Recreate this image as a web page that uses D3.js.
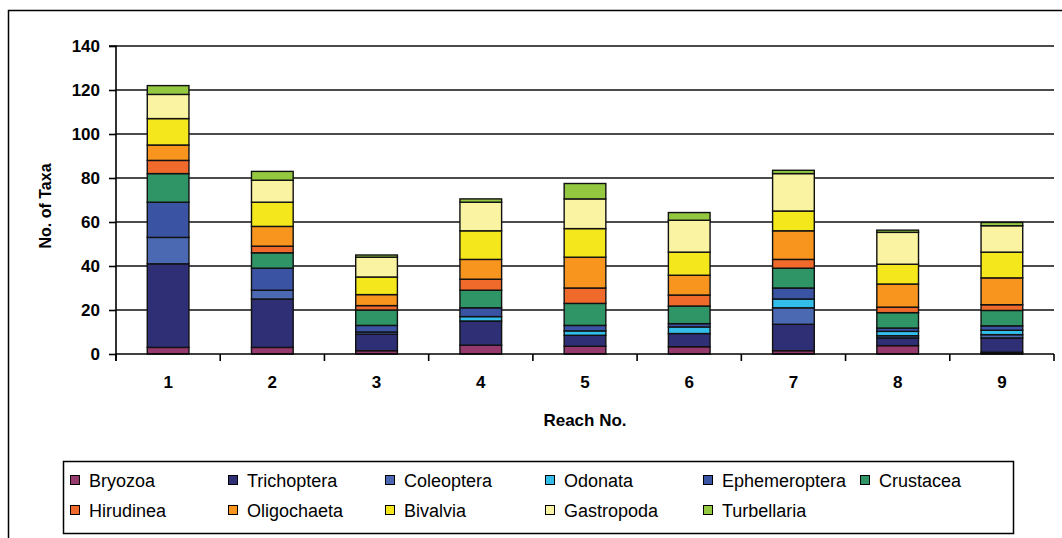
<!DOCTYPE html>
<html>
<head>
<meta charset="utf-8">
<script src="https://cdn.jsdelivr.net/npm/d3@7"></script>
<style>
  html, body { margin: 0; padding: 0; background: #fff; }
  svg { display: block; font-family: Arial, "Liberation Sans", sans-serif; }
</style>
</head>
<body>
<svg id="chart" width="1062" height="538"></svg>
<script>
// ---- data ----
const reaches = ["1", "2", "3", "4", "5", "6", "7", "8", "9"];
const taxa = ["Bryozoa", "Trichoptera", "Coleoptera", "Odonata", "Ephemeroptera", "Crustacea",
              "Hirudinea", "Oligochaeta", "Bivalvia", "Gastropoda", "Turbellaria"];
const bryozoa       = [3, 3, 1.5, 4, 3.5, 3.3, 1.5, 3.8, 0.8];
const trichoptera   = [38, 22, 7.5, 11, 5, 6, 12, 3.5, 6.5];
const coleoptera    = [12, 4, 1, 0, 0, 0, 7.5, 1, 1.5];
const odonata       = [0, 0, 0, 2, 2, 3, 4, 2, 2];
const ephemeroptera = [16, 10, 3, 4, 2.5, 1.5, 5, 1.5, 2];
const crustacea     = [13, 7, 7, 8, 10, 8, 9, 7, 7];
const hirudinea     = [6, 3, 2, 5, 7, 5, 4, 2.5, 2.6];
const oligochaeta   = [7, 9, 5, 9, 14, 9, 13, 10.5, 12.2];
const bivalvia      = [12, 11, 8, 13, 13, 10.5, 9, 9, 11.7];
const gastropoda    = [11, 10, 9, 13, 13.5, 14.5, 17, 14.5, 12];
const turbellaria   = [4, 4, 1, 1.5, 7, 3.5, 1.5, 1, 1.5];
const yTicks = [0, 20, 40, 60, 80, 100, 120, 140];

const seriesValues = [bryozoa, trichoptera, coleoptera, odonata, ephemeroptera, crustacea,
                      hirudinea, oligochaeta, bivalvia, gastropoda, turbellaria];
const colors = ["#963a6e", "#2e2f74", "#4a69b2", "#33bde9", "#3a53a3", "#2f9566",
                "#ef6a2b", "#f7951f", "#f4e81c", "#faf3a1", "#93c840"];

(function () {
// table for d3.stack
const table = reaches.map((r, i) => {
  const row = { reach: r };
  taxa.forEach((t, j) => row[t] = seriesValues[j][i]);
  return row;
});

const svg = d3.select("#chart");

// outer frame
svg.append("rect").attr("x", 8.5).attr("y", 10.5).attr("width", 1070).attr("height", 600)
  .attr("fill", "none").attr("stroke", "#000").attr("stroke-width", 1.5);

const pL = 116, pR = 1054, pT = 46, pB = 354;

const x = d3.scaleBand().domain(reaches).range([pL, pR]).paddingInner(0.6).paddingOuter(0.3);
const y = d3.scaleLinear().domain([0, 140]).range([pB, pT]);

// gridlines
svg.append("g").selectAll("line").data(yTicks.filter(d => d > 0)).join("line")
  .attr("x1", pL).attr("x2", pR)
  .attr("y1", d => y(d)).attr("y2", d => y(d))
  .attr("stroke", "#111").attr("stroke-width", 1.6);

// stacked bars
const stack = d3.stack().keys(taxa)(table);
const gBars = svg.append("g");
stack.forEach((layer, j) => {
  gBars.append("g").attr("fill", colors[j])
    .selectAll("rect").data(layer.filter(d => d[1] - d[0] > 0)).join("rect")
    .attr("x", d => x(d.data.reach))
    .attr("width", x.bandwidth())
    .attr("y", d => y(d[1]))
    .attr("height", d => y(d[0]) - y(d[1]))
    .attr("stroke", "#111").attr("stroke-width", 1.4);
});

// y axis
const yAxis = d3.axisLeft(y).tickValues(yTicks).tickSize(7).tickPadding(9);
const gy = svg.append("g").attr("transform", `translate(${pL},0)`).call(yAxis);
gy.select(".domain").attr("stroke", "#000").attr("stroke-width", 1.6).attr("d", `M-7,${pT}H0V${pB + 7}`);
gy.selectAll(".tick line").attr("stroke", "#000").attr("stroke-width", 1.6);
gy.selectAll(".tick text").attr("font-size", 17).attr("font-weight", "bold").attr("fill", "#000")
  .attr("font-family", "Arial, 'Liberation Sans', sans-serif");

// x axis with ticks at band boundaries
const gx = svg.append("g").attr("transform", `translate(0,${pB})`);
gx.append("line").attr("x1", pL).attr("x2", pR).attr("stroke", "#000").attr("stroke-width", 1.6);
const boundaries = d3.range(reaches.length + 1).map(i => pL + i * (pR - pL) / reaches.length);
gx.selectAll("line.tk").data(boundaries).join("line").attr("class", "tk")
  .attr("x1", d => d).attr("x2", d => d).attr("y1", 0).attr("y2", 7)
  .attr("stroke", "#000").attr("stroke-width", 1.6);
gx.selectAll("text").data(reaches).join("text")
  .attr("x", d => x(d) + x.bandwidth() / 2).attr("y", 34)
  .attr("text-anchor", "middle").attr("font-size", 17).attr("font-weight", "bold")
  .text(d => d);

// axis titles
svg.append("text").attr("x", (pL + pR) / 2).attr("y", 426)
  .attr("text-anchor", "middle").attr("font-size", 17).attr("font-weight", "bold")
  .text("Reach No.");
svg.append("text").attr("transform", `translate(51,${(pT + pB) / 2 + 6}) rotate(-90)`)
  .attr("text-anchor", "middle").attr("font-size", 16).attr("font-weight", "bold")
  .text("No. of Taxa");

// legend
svg.append("rect").attr("x", 63.5).attr("y", 461.5).attr("width", 950).attr("height", 72)
  .attr("fill", "#fff").attr("stroke", "#000").attr("stroke-width", 1.5);
const colX = [70, 228, 385, 545, 703, 860];
const rowY = [480, 510];
const lg = svg.append("g").selectAll("g").data(taxa).join("g")
  .attr("transform", (d, i) => `translate(${colX[i % 6]},${rowY[Math.floor(i / 6)]})`);
lg.append("rect").attr("x", 0.5).attr("y", -4.5).attr("width", 9).attr("height", 9)
  .attr("fill", (d, i) => colors[i]).attr("stroke", "#000").attr("stroke-width", 1);
lg.append("text").attr("x", 19).attr("y", 6.5).attr("font-size", 18).text(d => d);
})();
</script>
</body>
</html>
